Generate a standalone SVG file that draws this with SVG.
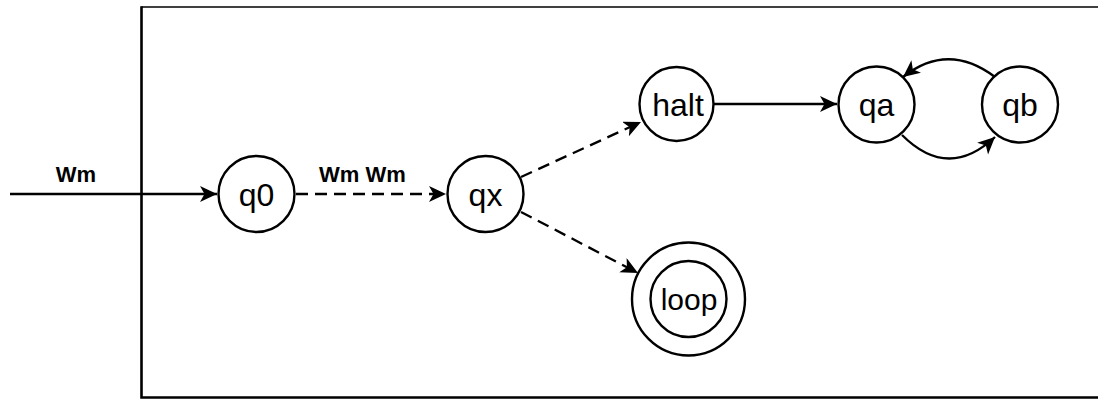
<svg xmlns="http://www.w3.org/2000/svg" width="1098" height="399" viewBox="0 0 1098 399">
  <style>
    .state { fill: #fff; stroke: #000; stroke-width: 2.4; }
    .label { font-family: "Liberation Sans", Arial, sans-serif; font-size: 32px; fill: #000; text-anchor: middle; }
    .small { font-size: 30px; }
    .edge-label { font-family: "Liberation Sans", Arial, sans-serif; font-size: 22px; font-weight: bold; fill: #000; text-anchor: middle; }
    .edge { fill: none; stroke: #000; stroke-width: 2.3; }
    .dashed { stroke-dasharray: 12 7; }
    .frame { fill: none; stroke: #000; }
  </style>
  <defs>
    <marker id="arrow" markerUnits="userSpaceOnUse" markerWidth="20" markerHeight="18" refX="17" refY="8" orient="auto">
      <path d="M0,0 L17,8 L0,16 L4.5,8 Z" fill="#000"/>
    </marker>
  </defs>

  <rect width="1098" height="399" fill="#fff"/>

  <!-- frame: open on the right -->
  <g id="frame">
    <path class="frame" d="M141.5,7 H1100" stroke-width="1.5"/>
    <path class="frame" d="M141.5,6.3 V397.5 H1100" stroke-width="2.6"/>
  </g>

  <!-- transitions -->
  <g id="connectors">
    <path class="edge" d="M10,194 H217" marker-end="url(#arrow)"/>
    <path class="edge dashed" d="M296,194 H446" marker-end="url(#arrow)"/>
    <path class="edge dashed" d="M521,177 L641,122" marker-end="url(#arrow)"/>
    <path class="edge dashed" d="M521,212 L638,273" marker-end="url(#arrow)"/>
    <path class="edge" d="M714,104 H837" marker-end="url(#arrow)"/>
    <path class="edge" d="M902,135 Q948,181 995,137" marker-end="url(#arrow)"/>
    <path class="edge" d="M995,77 Q948,41.5 903,77" marker-end="url(#arrow)"/>
    <text class="edge-label" x="76" y="182">Wm</text>
    <text class="edge-label" x="362.5" y="182">Wm Wm</text>
  </g>

  <g id="q0">
    <circle class="state" cx="256.5" cy="194" r="38"/>
    <text class="label" x="256.5" y="206">q0</text>
  </g>
  <g id="qx">
    <circle class="state" cx="485.5" cy="194" r="38"/>
    <text class="label" x="485.5" y="206">qx</text>
  </g>
  <g id="halt">
    <circle class="state" cx="676.5" cy="104" r="37"/>
    <text class="label" x="678" y="116">halt</text>
  </g>
  <g id="loop">
    <circle class="state" cx="688.5" cy="299" r="56.5"/>
    <circle class="state" cx="688.5" cy="299" r="38"/>
    <text class="label small" x="689" y="310">loop</text>
  </g>
  <g id="qa">
    <circle class="state" cx="876.5" cy="104.5" r="38"/>
    <text class="label" x="876.5" y="116">qa</text>
  </g>
  <g id="qb">
    <circle class="state" cx="1020" cy="104.5" r="38"/>
    <text class="label" x="1020" y="116">qb</text>
  </g>
</svg>
